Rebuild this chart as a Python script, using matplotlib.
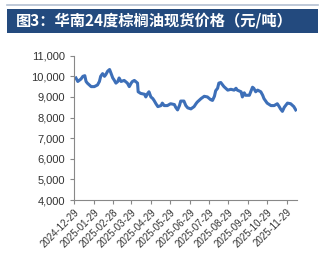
import matplotlib
matplotlib.use("Agg")
import matplotlib.pyplot as plt
import pandas as pd
from matplotlib.patches import Rectangle
from matplotlib.lines import Line2D

plt.rcParams['font.family'] = ['Liberation Sans', 'DejaVu Sans']

title = "图3：华南24度棕榈油现货价格（元/吨）"

dates = ["2025-01-01", "2025-01-04", "2025-01-09", "2025-01-12", "2025-01-15", "2025-01-17",
         "2025-01-19", "2025-01-25", "2025-01-30", "2025-02-04", "2025-02-07", "2025-02-09",
         "2025-02-12", "2025-02-15", "2025-02-17", "2025-02-20", "2025-02-23", "2025-02-25",
         "2025-02-28", "2025-03-02", "2025-03-05", "2025-03-08", "2025-03-10", "2025-03-13",
         "2025-03-18", "2025-03-23", "2025-03-26", "2025-03-29", "2025-03-31", "2025-04-03",
         "2025-04-05", "2025-04-08", "2025-04-09", "2025-04-13", "2025-04-19", "2025-04-21",
         "2025-04-24", "2025-04-26", "2025-04-29", "2025-05-02", "2025-05-04", "2025-05-07",
         "2025-05-10", "2025-05-15", "2025-05-17", "2025-05-20", "2025-05-25", "2025-05-30",
         "2025-06-05", "2025-06-07", "2025-06-10", "2025-06-13", "2025-06-15", "2025-06-20",
         "2025-06-23", "2025-06-26", "2025-07-01", "2025-07-06", "2025-07-09", "2025-07-11",
         "2025-07-17", "2025-07-22", "2025-07-27", "2025-08-01", "2025-08-04", "2025-08-07",
         "2025-08-09", "2025-08-12", "2025-08-14", "2025-08-17", "2025-08-20", "2025-08-22",
         "2025-08-28", "2025-09-02", "2025-09-07", "2025-09-10", "2025-09-12", "2025-09-18",
         "2025-09-20", "2025-09-23", "2025-09-25", "2025-10-01", "2025-10-06", "2025-10-08",
         "2025-10-11", "2025-10-14", "2025-10-19", "2025-10-22", "2025-10-24", "2025-10-29",
         "2025-11-04", "2025-11-09", "2025-11-14", "2025-11-17", "2025-11-19", "2025-11-22",
         "2025-11-25", "2025-11-30", "2025-12-05", "2025-12-10", "2025-12-13"]
prices = [9920, 9750, 9870, 10000, 10030, 9750, 9670, 9500, 9500, 9580, 9750, 10000,
          10130, 10000, 10080, 10250, 10330, 10170, 9920, 9830, 9670, 9750, 9920, 9750,
          9800, 9670, 9500, 9670, 9750, 9800, 9750, 9670, 9250, 9170, 9130, 9000,
          9170, 9250, 9000, 8920, 8830, 8670, 8530, 8580, 8700, 8580, 8580, 8670,
          8630, 8500, 8370, 8580, 8800, 8800, 8580, 8470, 8420, 8530, 8670, 8750,
          8920, 9030, 9000, 8870, 8830, 9030, 9300, 9420, 9670, 9700, 9580, 9500,
          9330, 9370, 9330, 9420, 9330, 9250, 9000, 9200, 9080, 9080, 9470, 9420,
          9250, 9330, 9250, 9080, 8920, 8700, 8580, 8580, 8670, 8530, 8420, 8300,
          8500, 8700, 8670, 8530, 8370]

tick_dates = ["2024-12-29", "2025-01-29", "2025-02-28", "2025-03-29", "2025-04-29", "2025-05-29",
              "2025-06-29", "2025-07-29", "2025-08-29", "2025-09-29", "2025-10-29", "2025-11-29"]
yticks = [4000, 5000, 6000, 7000, 8000, 9000, 10000, 11000]

x = pd.to_datetime(dates)
xt = pd.to_datetime(tick_dates)

fig = plt.figure(figsize=(3.31, 2.60), dpi=100)
W, H = 331, 260

# header
fig.add_artist(Line2D([7 / W, 318 / W], [1 - 5 / H, 1 - 5 / H], color="#b4c0d2", lw=1.2))
fig.add_artist(Rectangle((7 / W, 1 - 33 / H), 311 / W, 24 / H, facecolor="#234a7e",
                         edgecolor="none"))
fig.text(16 / W, 1 - 21 / H, title, color="white", fontsize=11, fontweight="bold",
         va="center", ha="left", family=["Noto Sans CJK SC", "DejaVu Sans"])

ax = fig.add_axes([74 / W, 1 - 200 / H, 223 / W, 144.3 / H])
ax.plot(x, prices, color="#3d6fb8", lw=2.2, solid_joinstyle="round")

ax.set_xlim(pd.Timestamp("2024-12-29"), pd.Timestamp("2025-12-15"))
ax.set_ylim(4000, 11000)
ax.set_yticks(yticks)
ax.yaxis.set_major_formatter(matplotlib.ticker.FuncFormatter(lambda v, p: f"{int(v):,}"))
ax.set_xticks(xt)
ax.set_xticklabels(tick_dates, rotation=45, ha="right", rotation_mode="anchor")

for s in ["top", "right"]:
    ax.spines[s].set_visible(False)
for s in ["left", "bottom"]:
    ax.spines[s].set_color("#888888")
    ax.spines[s].set_linewidth(0.8)
ax.tick_params(axis="both", colors="#888888", length=3, width=0.8, labelsize=8,
               labelcolor="#333333")
ax.tick_params(axis="x", labelsize=7, pad=2)

fig.savefig("out.png", dpi=100)
